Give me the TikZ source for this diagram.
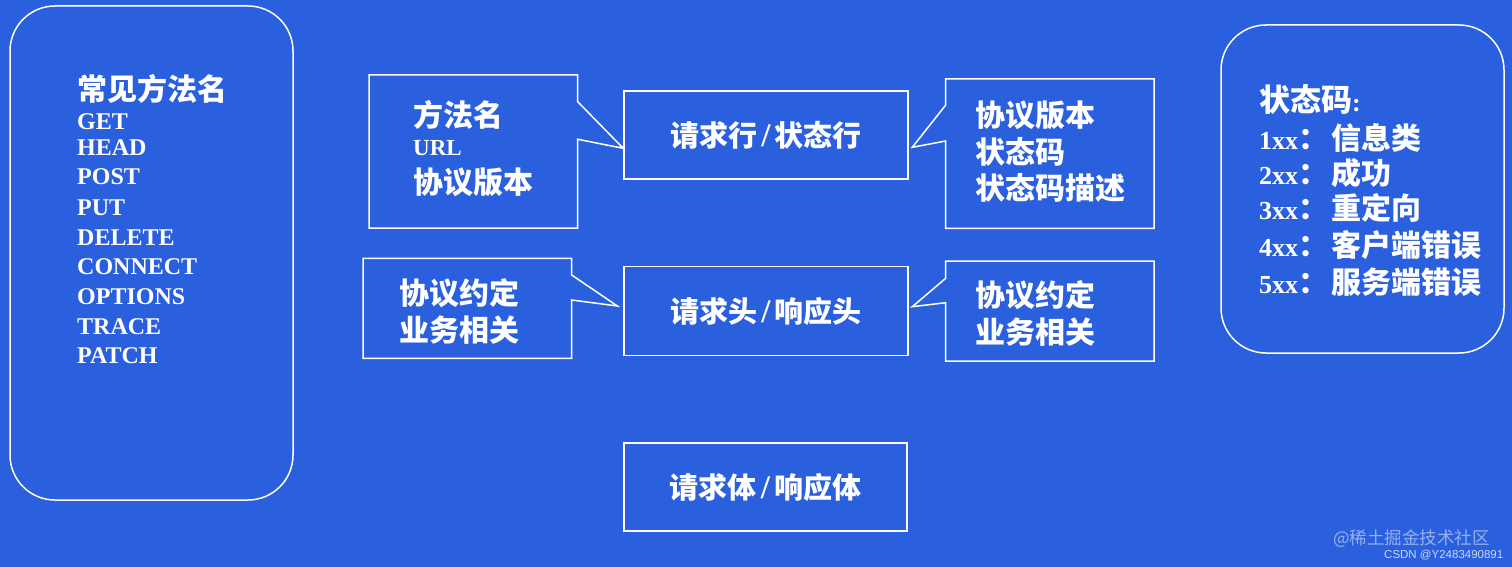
\documentclass[tikz,border=0pt]{standalone}
\usepackage{fontspec}
\setmainfont{Liberation Serif}
\newfontfamily\cjkfont{Noto Sans CJK SC}
\newfontfamily\wmfont{Liberation Sans}
\definecolor{bgblue}{RGB}{42,96,222}
\newcommand{\myfs}[1]{\fontsize{#1}{#1}\selectfont}
\newcommand{\myzh}[1]{{\cjkfont #1}}
\newcommand{\myslash}{\hspace{4pt}{\myfs{33}/}\hspace{4pt}}
\begin{document}
\begin{tikzpicture}[x=1pt,y=-1pt,line join=miter,
  lw/.style={draw=white,line width=1.5pt},
  boxnode/.style={lw,minimum width=283pt,minimum height=88pt,inner sep=0pt,text=white,font=\bfseries\myfs{29}},
  roundbox/.style={lw,rounded corners=45pt,inner sep=0pt},
  txt/.style={text=white,inner sep=0pt,anchor=west},
  zhtxt/.style={txt,font=\cjkfont\bfseries\myfs{30}},
  entxt/.style={txt,font=\bfseries\myfs{24}}
]
\fill[bgblue] (0,0) rectangle (1512,567);
\useasboundingbox (0,0) rectangle (1512,567);

% left rounded box: methods
\node[roundbox,minimum width=283pt,minimum height=494pt] (methods) at (151.5,253) {};
\node[zhtxt] (mtitle) at (77,89) {常见方法名};
\foreach \t/\y [count=\i] in {GET/122,HEAD/148,POST/177,PUT/208,DELETE/238,CONNECT/267,OPTIONS/297,TRACE/327,PATCH/356}
  \node[entxt] (m\i) at (77,\y) {\t};

% central boxes
\node[boxnode,minimum width=284pt] (line) at (766,135) {\myzh{请求行}\myslash\myzh{状态行}};
\node[boxnode,minimum width=284pt,minimum height=89pt] (head) at (766,311) {\myzh{请求头}\myslash\myzh{响应头}};
\node[boxnode] (body) at (765.5,487) {\myzh{请求体}\myslash\myzh{响应体}};

% callout A (left of line)
\coordinate (tipA) at (line.west |- 0,148.3);
\draw[lw] (369,75) -- (577.7,75) -- (577.7,101.7) -- (tipA) -- (577.7,139.3) -- (577.7,228) -- (369,228) -- cycle;
\node[zhtxt] (a1) at (413,115) {方法名};
\node[txt,font=\bfseries\myfs{23}] (a2) at (413,148) {URL};
\node[zhtxt] (a3) at (413,182) {协议版本};

% callout B (left of head)
\coordinate (tipB) at (617.3,306);
\draw[lw] (363,258.3) -- (571.7,258.3) -- (571.7,275) -- (tipB) -- (571.7,300) -- (571.7,358.3) -- (363,358.3) -- cycle;
\node[zhtxt] (b1) at (399,293) {协议约定};
\node[zhtxt] (b2) at (399,330) {业务相关};

% callout C (right of line)
\coordinate (tipC) at (912.3,147.3);
\draw[lw] (1154,79) -- (945.7,79) -- (945.7,105) -- (tipC) -- (945.7,141) -- (945.7,228.3) -- (1154,228.3) -- cycle;
\node[zhtxt] (c1) at (975,115) {协议版本};
\node[zhtxt] (c2) at (975,152) {状态码};
\node[zhtxt] (c3) at (975,188) {状态码描述};

% callout D (right of head)
\coordinate (tipD) at (912.3,306.7);
\draw[lw] (1154,261) -- (945.7,261) -- (945.7,278.3) -- (tipD) -- (945.7,302.7) -- (945.7,361) -- (1154,361) -- cycle;
\node[zhtxt] (d1) at (975,295) {协议约定};
\node[zhtxt] (d2) at (975,332) {业务相关};

% right rounded box: status codes
\node[roundbox,minimum width=283pt,minimum height=328pt] (codes) at (1362.5,189) {};
\node[txt,font=\bfseries\myfs{26}] (s0) at (1259,100) {{\cjkfont\myfs{31}状态码}:};
\foreach \n/\t/\y [count=\i] in {1/信息类/138,2/成功/173,3/重定向/208,4/客户端错误/245,5/服务端错误/282}
  \node[txt,font=\bfseries\myfs{26}] (s\i) at (1259,\y) {\n xx{\cjkfont\myfs{30}：\hspace{3pt}\t}};

% watermarks
\node[txt,text opacity=0.5,font=\cjkfont\myfs{17.5}] (wm1) at (1333,539) {@稀土掘金技术社区};
\node[txt,text opacity=0.75,font=\wmfont\myfs{11.5}] (wm2) at (1384,555) {CSDN @Y2483490891};
\end{tikzpicture}
\end{document}
